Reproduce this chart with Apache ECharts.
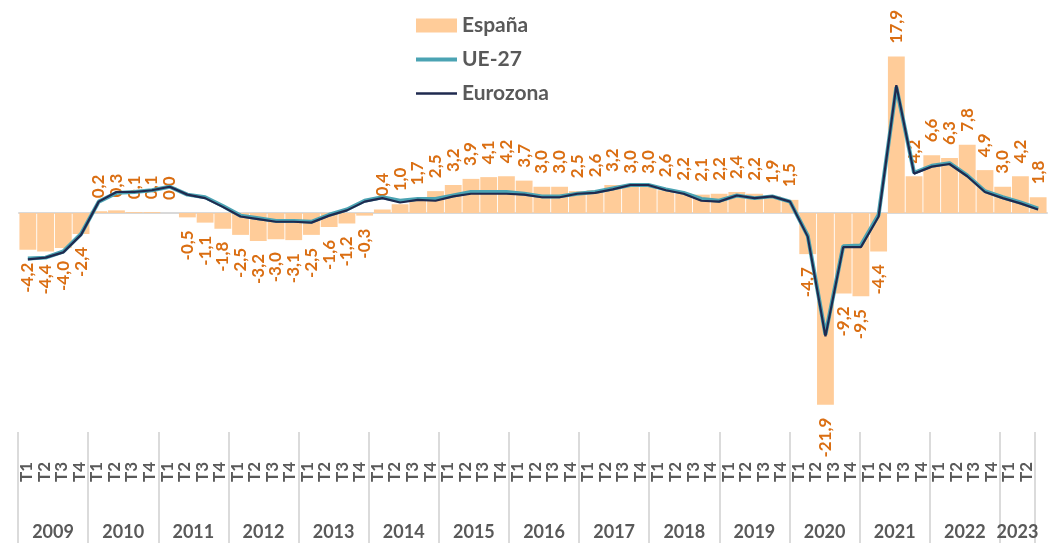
<!DOCTYPE html>
<html>
<head>
<meta charset="utf-8">
<script src="https://cdn.jsdelivr.net/npm/echarts@6/dist/echarts.min.js"></script>
<style>
  html, body { margin: 0; padding: 0; background: #fff; }
  #graph { width: 1054px; height: 545px; }
</style>
</head>
<body>
<div id="graph"></div>
<script>
var quarters = ['T1','T2','T3','T4','T1','T2','T3','T4','T1','T2','T3','T4','T1','T2','T3','T4',
    'T1','T2','T3','T4','T1','T2','T3','T4','T1','T2','T3','T4','T1','T2','T3','T4',
    'T1','T2','T3','T4','T1','T2','T3','T4','T1','T2','T3','T4','T1','T2','T3','T4',
    'T1','T2','T3','T4','T1','T2','T3','T4','T1','T2'];
var years = ['2009','2010','2011','2012','2013','2014','2015','2016','2017','2018','2019','2020','2021','2022','2023'];

var espana = [-4.2,-4.4,-4.0,-2.4, 0.2,0.3,0.1,0.1, 0.0,-0.5,-1.1,-1.8, -2.5,-3.2,-3.0,-3.1,
    -2.5,-1.6,-1.2,-0.3, 0.4,1.0,1.7,2.5, 3.2,3.9,4.1,4.2, 3.7,3.0,3.0,2.5,
    2.6,3.2,3.0,3.0, 2.6,2.2,2.1,2.2, 2.4,2.2,1.9,1.5, -4.7,-21.9,-9.2,-9.5,
    -4.4,17.9,4.2,6.6, 6.3,7.8,4.9,3.0, 4.2,1.8];
var ue27 = [-5.2,-5.1,-4.4,-2.4, 1.3,2.3,2.4,2.6, 3.0,2.1,1.8,0.8, -0.3,-0.6,-0.9,-0.9,
    -1.0,-0.2,0.4,1.4, 1.8,1.4,1.6,1.6, 2.0,2.4,2.4,2.4, 2.2,1.9,1.9,2.2,
    2.4,2.8,3.2,3.2, 2.7,2.3,1.6,1.4, 2.0,1.7,1.9,1.3, -2.6,-13.9,-3.8,-3.7,
    -0.2,14.4,4.6,5.4, 5.7,4.3,2.5,1.8, 1.2,0.5];
var eurozona = [-5.3,-5.1,-4.5,-2.5, 1.3,2.4,2.4,2.6, 3.0,2.1,1.7,0.7, -0.4,-0.7,-1.0,-1.0,
    -1.1,-0.3,0.3,1.3, 1.7,1.2,1.5,1.4, 1.9,2.2,2.2,2.2, 2.1,1.8,1.8,2.2,
    2.3,2.7,3.2,3.2, 2.6,2.2,1.4,1.3, 2.0,1.7,1.9,1.3, -2.7,-14.1,-3.9,-3.9,
    -0.4,14.6,4.5,5.3, 5.6,4.2,2.4,1.7, 1.1,0.4];

var font = 'Lato';
var grey = '#595959';
var labelColor = '#DA6E12';
var tealColor = '#4BA3B3';
var navyColor = '#1F2A4F';

var chart = echarts.init(document.getElementById('graph'));

// etiquetas de las barras: encima si es positivo, debajo si es negativo
var espanaData = espana.map(function (v) {
    return {
        value: v,
        label: {
            position: v >= 0 ? 'top' : 'bottom',
            align: v >= 0 ? 'left' : 'right'
        }
    };
});

var option = {
    animation: false,
    legend: {
        orient: 'vertical',
        left: 411,
        top: 10,
        itemWidth: 41,
        itemHeight: 14,
        itemGap: 13,
        textStyle: { fontFamily: font, fontSize: 21, fontWeight: 'bold', color: grey },
        data: [
            { name: 'España', icon: 'rect' },
            { name: 'UE-27', icon: 'path://M0,0H41V4H0Z', itemStyle: { color: tealColor } },
            { name: 'Eurozona', icon: 'path://M0,0H41V2.4H0Z', itemStyle: { color: navyColor } }
        ]
    },
    grid: [
        { left: 19, right: 7, top: 38, height: 393.75 },
        { left: 18, right: 19, top: 420, height: 12 }
    ],
    xAxis: [{
        type: 'category',
        gridIndex: 0,
        data: quarters,
        axisLine: { onZero: true, lineStyle: { color: '#d9d9d9', width: 2 } },
        axisTick: { show: false },
        axisLabel: { show: false }
    }, {
        type: 'category',
        gridIndex: 1,
        data: quarters,
        position: 'bottom',
        axisLine: { show: false },
        axisTick: {
            show: true,
            length: 111,
            interval: function (idx) { return idx % 4 === 0; },
            lineStyle: { color: '#d0d0d0', width: 1.5 }
        },
        axisLabel: {
            interval: 0,
            rotate: 90,
            align: 'left',
            verticalAlign: 'middle',
            margin: 50,
            fontFamily: font,
            fontSize: 17,
            fontWeight: 'bold',
            color: grey
        }
    }, {
        type: 'category',
        gridIndex: 1,
        data: quarters,
        position: 'bottom',
        axisLine: { show: false },
        axisTick: { show: false },
        axisLabel: {
            interval: 0,
            margin: 91,
            padding: [0, 0, 0, 17.5],
            fontFamily: font,
            fontSize: 18,
            fontWeight: 'bold',
            color: grey,
            formatter: function (value, idx) {
                // el año va centrado entre T2 y T3 (2023 solo tiene T1 y T2)
                if ((idx % 4 === 1 && idx < 56) || idx === 56) {
                    return years[Math.floor(idx / 4)];
                }
                return '';
            }
        }
    }],
    yAxis: [{
        type: 'value',
        gridIndex: 0,
        min: -25,
        max: 20,
        show: false,
        splitLine: { show: false }
    }, {
        type: 'value',
        gridIndex: 1,
        show: false
    }],
    series: [{
        name: 'España',
        type: 'bar',
        xAxisIndex: 0,
        yAxisIndex: 0,
        data: espanaData,
        barCategoryGap: '5%',
        itemStyle: { color: '#FFCC99' },
        label: {
            show: true,
            rotate: 90,
            distance: 13,
            verticalAlign: 'middle',
            fontFamily: font,
            fontSize: 17,
            fontWeight: 'bold',
            color: labelColor,
            formatter: function (p) {
                return p.value.toFixed(1).replace('.', ',');
            }
        },
        z: 2
    }, {
        name: 'UE-27',
        type: 'line',
        xAxisIndex: 0,
        yAxisIndex: 0,
        data: ue27,
        symbol: 'none',
        lineStyle: { color: tealColor, width: 4 },
        itemStyle: { color: tealColor },
        z: 3
    }, {
        name: 'Eurozona',
        type: 'line',
        xAxisIndex: 0,
        yAxisIndex: 0,
        data: eurozona,
        symbol: 'none',
        lineStyle: { color: navyColor, width: 2.2 },
        itemStyle: { color: navyColor },
        z: 4
    }]
};

chart.setOption(option);
</script>
</body>
</html>
